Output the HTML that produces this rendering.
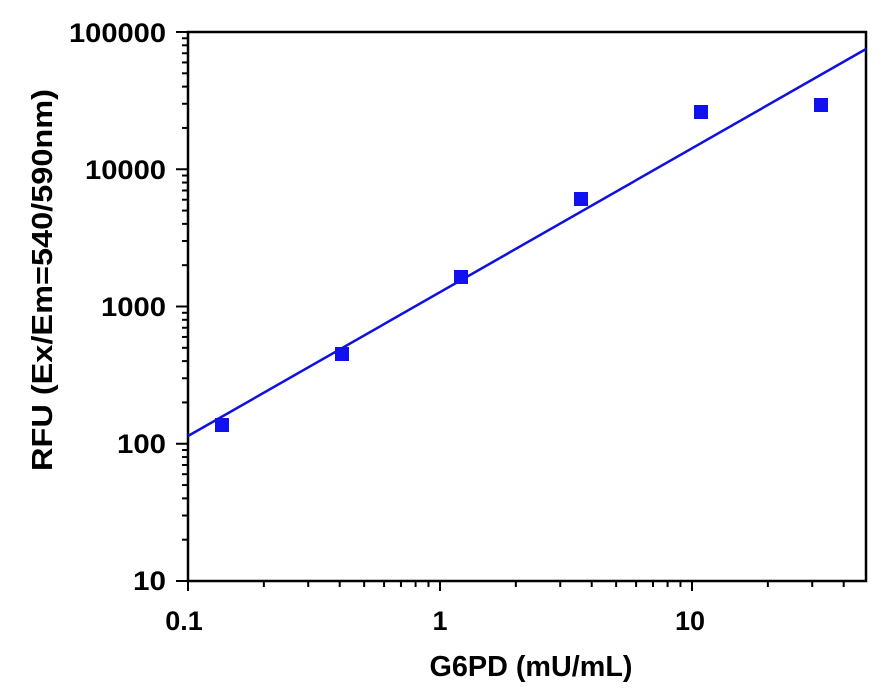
<!DOCTYPE html>
<html><head><meta charset="utf-8"><style>
html,body{margin:0;padding:0;background:#fff;width:888px;height:696px;overflow:hidden}
text{font-family:"Liberation Sans",Arial,sans-serif;font-weight:bold;fill:#000}
</style></head><body>
<svg id="s" width="888" height="696" viewBox="0 0 888 696" xmlns="http://www.w3.org/2000/svg">
<rect x="188" y="32" width="678" height="549" fill="none" stroke="#000" stroke-width="2.5"/>
<g id="ticks" stroke="#000" stroke-width="2"></g>
<line x1="188" y1="436" x2="866" y2="49" stroke="#1010e0" stroke-width="2.5"/>
<g fill="#1010f0">
<rect x="215" y="418" width="14" height="14"/>
<rect x="335" y="347" width="14" height="14"/>
<rect x="454" y="270" width="14" height="14"/>
<rect x="574" y="192" width="14" height="14"/>
<rect x="694" y="105" width="14" height="14"/>
<rect x="814" y="98" width="14" height="14"/>
</g>
<g font-size="27" text-anchor="end">
<text x="166" y="42" textLength="97" lengthAdjust="spacingAndGlyphs">100000</text>
<text x="166" y="179" textLength="81" lengthAdjust="spacingAndGlyphs">10000</text>
<text x="166" y="316" textLength="65" lengthAdjust="spacingAndGlyphs">1000</text>
<text x="166" y="453" textLength="49" lengthAdjust="spacingAndGlyphs">100</text>
<text x="166" y="590" textLength="33" lengthAdjust="spacingAndGlyphs">10</text>
</g>
<g font-size="27" text-anchor="middle">
<text x="184" y="630">0.1</text>
<text x="440" y="630">1</text>
<text x="690" y="630">10</text>
</g>
<text x="531" y="676" font-size="29" text-anchor="middle" textLength="203" lengthAdjust="spacingAndGlyphs">G6PD (mU/mL)</text>
<text transform="translate(52,280) rotate(-90)" font-size="29" text-anchor="middle" textLength="382" lengthAdjust="spacingAndGlyphs">RFU (Ex/Em=540/590nm)</text>
</svg>
<script>
var g=document.getElementById('ticks'),h='';
var L=188,B=581,dx=252,dy=137.25;
for(var d=0;d<3;d++)for(var m=1;m<10;m++){var x=L+(d+Math.log10(m))*dx;if(x>866.5)break;var len=m==1?10:6;h+='<line x1="'+x+'" y1="'+B+'" x2="'+x+'" y2="'+(B+len)+'"/>';}
for(var d=0;d<5;d++)for(var m=1;m<10;m++){if(d==4&&m>1)break;var y=B-(d+Math.log10(m))*dy;var len=m==1?12:6;h+='<line x1="'+(L-len)+'" y1="'+y+'" x2="'+L+'" y2="'+y+'"/>';}
g.innerHTML=h;
</script>
</body></html>
